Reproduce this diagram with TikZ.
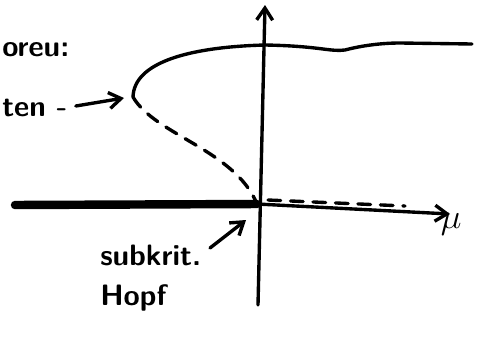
\documentclass[tikz,border=0pt]{standalone}
\usetikzlibrary{arrows.meta}

\begin{document}
\begin{tikzpicture}[
    x=0.025cm,y=-0.025cm,>={Straight Barb[length=3mm,width=4mm]},
    pen/.style={line width=2.4pt,line cap=round,line join=round},
    dashpen/.style={pen,dash pattern=on 9pt off 7pt},
    hand/.style={font=\fontsize{21}{28}\selectfont\sffamily\bfseries,align=left,inner sep=0pt}
  ]
    \useasboundingbox (0,0) rectangle (497,336);
    \coordinate (O) at (257,204);
    \coordinate (ytop) at (265,5);
    \coordinate (ybot) at (258,305);
    \coordinate (xl) at (15,205);
    \coordinate (xr) at (450,214);
    \coordinate (turn) at (133,97);
    \coordinate (upend) at (472,44);
    % axes
    \draw[pen,->] (ybot) -- (ytop);
    \draw[pen,line width=6pt] (xl) -- (O);
    \draw[pen,->] (O) -- (xr);
    \draw[dashpen] (268,200) -- (405,206);
    % branches
    \draw[pen] (turn) .. controls (134,62) and (190,47) .. (265,45)
      .. controls (320,46) and (330,52) .. (345,50)
      .. controls (360,46) and (380,43) .. (400,43) -- (upend);
    \draw[dashpen] (turn) .. controls (155,135) and (235,150) .. (O);
    % labels
    \node[hand,anchor=west] (stab) at (2,50) {oreu:};
    \node[hand,anchor=west] (zykl) at (2,108) {ten -};
    \draw[pen,->] (zykl.east) ++(8,-2) -- (124,98);
    \node[hand,anchor=north west] (hopf) at (100,245) {subkrit.\\Hopf};
    \draw[pen,->] (210,248) -- (246,220);
    \node[anchor=west,font=\fontsize{34}{34}\selectfont] (mu) at (436,224) {$\mu$};
\end{tikzpicture}
\end{document}
